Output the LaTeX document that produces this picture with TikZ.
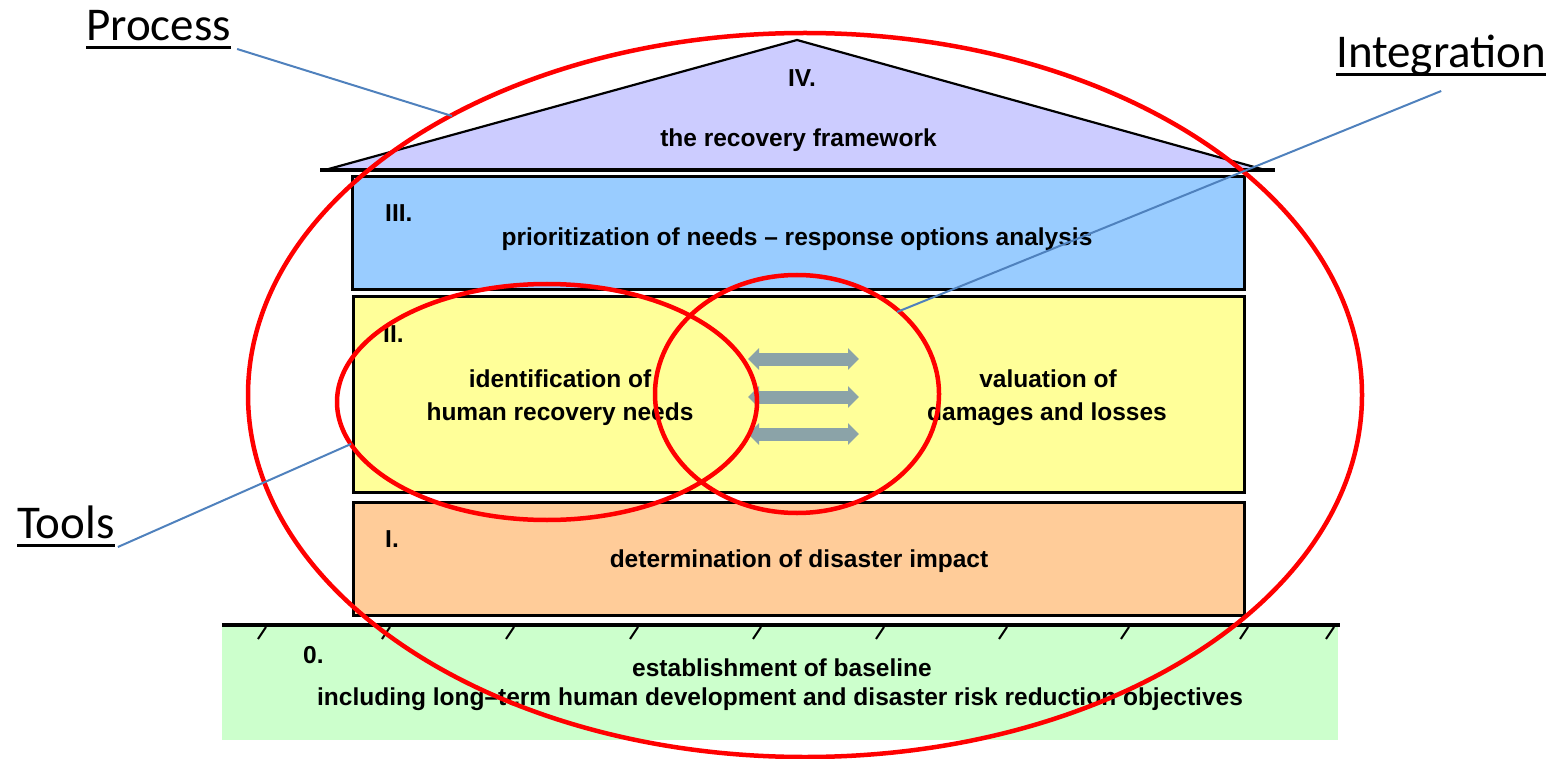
\documentclass[tikz,border=0pt]{standalone}
\usepackage{fontspec}
\setmainfont{Carlito}
\newfontfamily\dgfont{Liberation Sans}
\usetikzlibrary{arrows.meta}
\definecolor{roofc}{HTML}{CCCCFF}
\definecolor{lvthree}{HTML}{99CCFF}
\definecolor{lvtwo}{HTML}{FFFF99}
\definecolor{lvone}{HTML}{FFCC99}
\definecolor{lvzero}{HTML}{CCFFCC}
\definecolor{arrgray}{HTML}{8BA3A8}
\definecolor{callblue}{HTML}{4F81BD}
\definecolor{ringred}{HTML}{FF0000}
\tikzset{
  level/.style={draw=black, line width=3pt, inner sep=0pt},
  dtext/.style={font=\dgfont\bfseries\fontsize{24.5}{33}\selectfont, inner sep=0pt, align=center},
  lbl/.style={font=\fontsize{47}{56}\selectfont, inner sep=0pt},
  callout/.style={draw=callblue, line width=2pt},
  ring/.style={draw=ringred, line width=4.5pt},
  twoway/.style={draw=arrgray, line width=13pt, {Triangle[length=11pt,width=21pt]}-{Triangle[length=11pt,width=21pt]}},
  hatch/.style={draw=black, line width=2pt}
}
\begin{document}
\begin{tikzpicture}[x=1pt,y=-1pt]
\useasboundingbox (0,0) rectangle (1555,759);
% ground
\node[fill=lvzero, minimum width=1116pt, minimum height=115pt, inner sep=0pt] (ground) at (780,682.5) {};
\draw[line width=3.5pt] (ground.north west) -- ([xshift=2pt]ground.north east);
\foreach \hx in {262,386,510,634,757,880,1003,1125,1244,1330}
  \draw[hatch] (\hx-4,639) -- (\hx+4,627);
% roof
\coordinate (roofL) at (325,170);
\coordinate (apex) at (797,40);
\coordinate (roofR) at (1265,170);
\fill[roofc] (roofL) -- (apex) -- (roofR) -- cycle;
\draw[line width=2.2pt] (roofL) -- (apex) -- (roofR);
\draw[line width=3.5pt] (320,170) -- (1275,170);
% levels
\node[level, fill=lvthree, minimum width=892pt, minimum height=113pt] (lev3) at (798,233.5) {};
\node[level, fill=lvtwo, minimum width=891pt, minimum height=195pt] (lev2) at (798.5,394.5) {};
\node[level, fill=lvone, minimum width=891pt, minimum height=113pt] (lev1) at (798.5,558.5) {};
% texts
\node[dtext, anchor=base] (t4n) at (802,87) {IV.};
\node[dtext, anchor=base] (t4) at (798.5,147) {the recovery framework};
\node[dtext, anchor=base west] (t3n) at (385,222) {III.};
\node[dtext, anchor=base] (t3) at (797,246) {prioritization of needs \textendash{} response options analysis};
\node[dtext, anchor=base west] (t2n) at (383,342) {II.};
\node[dtext, anchor=base] (t2a) at (560,387) {identification of};
\node[dtext, anchor=base] (t2b) at (560,420) {human recovery needs};
\node[dtext, anchor=base] (t2c) at (1048,387) {valuation of};
\node[dtext, anchor=base] (t2d) at (1047,420) {damages and losses};
\node[dtext, anchor=base west] (t1n) at (385,547) {I.};
\node[dtext, anchor=base] (t1) at (799,567) {determination of disaster impact};
\node[dtext, anchor=base west] (t0n) at (303,663) {0.};
\node[dtext, anchor=base] (t0a) at (782,676) {establishment of baseline};
\node[dtext, anchor=base] (t0b) at (780,705) {including long\textendash term human development and disaster risk reduction objectives};
% double arrows
\coordinate (a1l) at (748,359); \coordinate (a1r) at (859,359);
\coordinate (a2l) at (748,397); \coordinate (a2r) at (859,397);
\coordinate (a3l) at (748,434); \coordinate (a3r) at (859,434);
\draw[twoway] (a1l) -- (a1r);
\draw[twoway] (a2l) -- (a2r);
\draw[twoway] (a3l) -- (a3r);
% rings
\draw[ring] (805,395) ellipse [x radius=557pt, y radius=362pt];
\draw[ring] (547,402) ellipse [x radius=210pt, y radius=118pt];
\draw[ring] (797,394) ellipse [x radius=142pt, y radius=119pt];
% labels
\node[lbl, anchor=base west] (proc) at (86,41) {Process};
\node[lbl, anchor=base west] (integ) at (1336,68) {Integration};
\node[lbl, anchor=base west] (tools) at (17,538) {Tools};
\foreach \n in {proc,integ,tools}
  \draw[line width=3pt] ([yshift=-7pt]\n.base west) -- ([yshift=-7pt]\n.base east);
\coordinate (procend) at (452,116);
\coordinate (integend) at (897,312);
\coordinate (toolsend) at (351,444);
\draw[callout] ([xshift=6pt,yshift=-8pt]proc.base east) -- (procend);
\draw[callout] ([yshift=-23pt]integ.base) -- (integend);
\draw[callout] ([xshift=3pt,yshift=-9pt]tools.base east) -- (toolsend);
\end{tikzpicture}
\end{document}
